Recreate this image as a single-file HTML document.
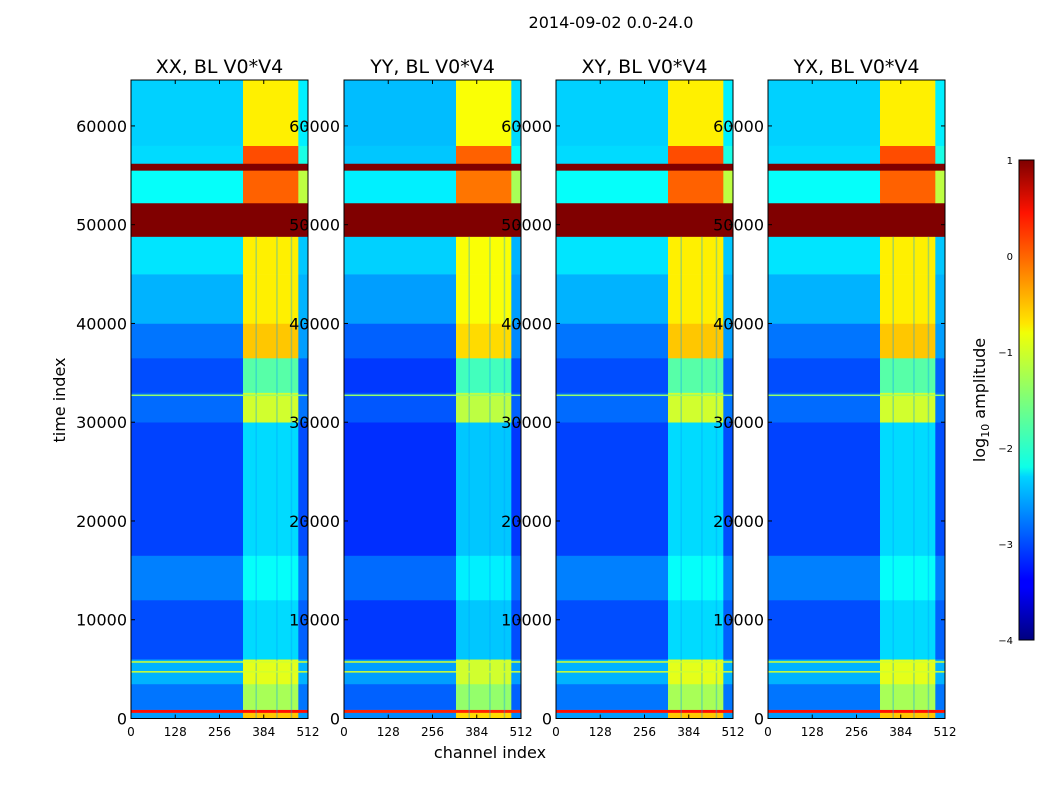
<!DOCTYPE html>
<html><head><meta charset="utf-8"><style>
body{margin:0;background:#fff;}
svg{display:block;font-family:"DejaVu Sans","Liberation Sans",sans-serif;}
</style></head><body>
<svg id="fig" width="1050" height="800" viewBox="0 0 1050 800">
<rect width="1050" height="800" fill="#fff"/>
<text x="611" y="28" font-size="16" text-anchor="middle">2014-09-02 0.0-24.0</text>
<text x="65" y="400" font-size="16" text-anchor="middle" transform="rotate(-90 65 400)">time index</text>
<text x="490" y="758" font-size="16" text-anchor="middle">channel index</text>
<g id="panels"></g>
<defs>
<linearGradient id="jet" x1="0" y1="1" x2="0" y2="0">
<stop offset="0" stop-color="#00007f"/><stop offset="0.11" stop-color="#0000ff"/>
<stop offset="0.125" stop-color="#0000ff"/><stop offset="0.34" stop-color="#00d4ff"/>
<stop offset="0.36" stop-color="#0dffe8"/><stop offset="0.5" stop-color="#7dff7a"/>
<stop offset="0.64" stop-color="#f0ff07"/><stop offset="0.66" stop-color="#ffe600"/>
<stop offset="0.89" stop-color="#ff1300"/><stop offset="1" stop-color="#7f0000"/>
</linearGradient>
</defs>
<g>
<rect x="1019" y="160" width="15" height="480" fill="url(#jet)" stroke="#000" stroke-width="1"/>
<text x="1013" y="164" font-size="10" text-anchor="end">1</text>
<text x="1013" y="260" font-size="10" text-anchor="end">0</text>
<text x="1013" y="356" font-size="10" text-anchor="end">−1</text>
<text x="1013" y="452" font-size="10" text-anchor="end">−2</text>
<text x="1013" y="548" font-size="10" text-anchor="end">−3</text>
<text x="1013" y="644" font-size="10" text-anchor="end">−4</text>
<text x="985" y="400" font-size="16" text-anchor="middle" transform="rotate(-90 985 400)">log<tspan font-size="11" dy="4">10</tspan><tspan dy="-4"> amplitude</tspan></text>
</g>
</svg>
<script>
const panelTitles=["XX, BL V0*V4","YY, BL V0*V4","XY, BL V0*V4","YX, BL V0*V4"];
const panelBias=[0,-0.1,0,0];
const channelEdges=[0,324,484,512];
const bandStart=[0,600,900,3500,6000,12000,16500,30000,33000,36500,40000,45000,48800,52200,55500,56200,58000];
const bandEnd=[600,900,3500,6000,12000,16500,30000,33000,36500,40000,45000,48800,52200,55500,56200,58000,64650];
const bandBg=[-2.6,0.3,-2.8,-2.5,-3.0,-2.75,-3.05,-2.85,-3.0,-2.8,-2.5,-2.25,1.0,-2.1,1.0,-2.3,-2.35];
const bandBright=[-0.6,0.3,-1.3,-1.0,-2.3,-2.1,-2.3,-1.1,-1.7,-0.6,-0.8,-0.8,1.0,-0.1,1.0,0.0,-0.8];
const bandRight=[-2.6,0.3,-2.8,-2.5,-2.9,-2.75,-3.0,-2.8,-2.9,-2.6,-2.5,-2.4,1.0,-1.2,1.0,-2.0,-2.2];
const lineTimes=[4700,5700,32700];
const lineVals=[-1.1,-1.1,-1.4];
const gapChannels=[360,420,462];
const xTicks=[0,128,256,384,512];
const yTicks=[0,10000,20000,30000,40000,50000,60000];
const panelX=[131,344,556,768], PW=177, PT=80, PB=718.5, TMAX=64650;
function jet(v){let t=(v+4)/5;t=Math.max(0,Math.min(1,t));
 const f=x=>Math.max(0,Math.min(1,x));
 const r=f(1.5-Math.abs(4*t-3)),g=f(1.5-Math.abs(4*t-2)),b=f(1.5-Math.abs(4*t-1));
 return `rgb(${Math.round(r*255)},${Math.round(g*255)},${Math.round(b*255)})`;}
const NS="http://www.w3.org/2000/svg";
const root=document.getElementById('panels');
function mk(tag,attrs,parent){const e=document.createElementNS(NS,tag);for(const k in attrs)e.setAttribute(k,attrs[k]);parent.appendChild(e);return e;}
panelX.forEach((x0,p)=>{
 const xs=c=>x0+c/512*PW, ys=t=>PB-t/TMAX*(PB-PT);
 const g=mk('g',{},root);
 
 
 for(let i=0;i<bandStart.length;i++){
  const vals=[bandBg[i],bandBright[i],bandRight[i]];
  for(let s=0;s<3;s++){
   const v=vals[s]<0.9?vals[s]+panelBias[p]:vals[s];
   const r=mk('rect',{x:xs(channelEdges[s]),y:ys(bandEnd[i]),width:xs(channelEdges[s+1])-xs(channelEdges[s])+0.3,height:ys(bandStart[i])-ys(bandEnd[i])+0.3,fill:jet(v)},g);
   
   
  }
 }
 gapChannels.forEach(c=>{
  const r=mk('rect',{x:xs(c),y:ys(48800),width:1.5,height:ys(0)-ys(48800),fill:jet(-2.6),opacity:0.35},g);
  
  
 });
 lineTimes.forEach((t,i)=>{
  const r=mk('rect',{x:xs(0),y:ys(t)-1,width:PW,height:1.5,fill:jet(lineVals[i])},g);
  
  
 });
 mk('rect',{x:x0,y:PT,width:PW,height:PB-PT,fill:'none',stroke:'#000','stroke-width':1},g);
 const tt=mk('text',{x:x0+PW/2,y:73,'font-size':19,'text-anchor':'middle'},g);
 tt.textContent=panelTitles[p];
 
 
 xTicks.forEach(c=>{
  mk('line',{x1:xs(c),x2:xs(c),y1:PB,y2:PB-4,stroke:'#000'},g);
  mk('line',{x1:xs(c),x2:xs(c),y1:PT,y2:PT+4,stroke:'#000'},g);
  const t=mk('text',{x:xs(c),y:736,'font-size':12,'text-anchor':'middle'},g);
  t.textContent=c;
  
  
 });
 yTicks.forEach(v=>{
  mk('line',{x1:x0,x2:x0+4,y1:ys(v),y2:ys(v),stroke:'#000'},g);
  mk('line',{x1:x0+PW,x2:x0+PW-4,y1:ys(v),y2:ys(v),stroke:'#000'},g);
  const t=mk('text',{x:x0-4,y:ys(v)+6,'font-size':16,'text-anchor':'end'},g);
  t.textContent=v;
  
  
 });
});
</script>
</body></html>
